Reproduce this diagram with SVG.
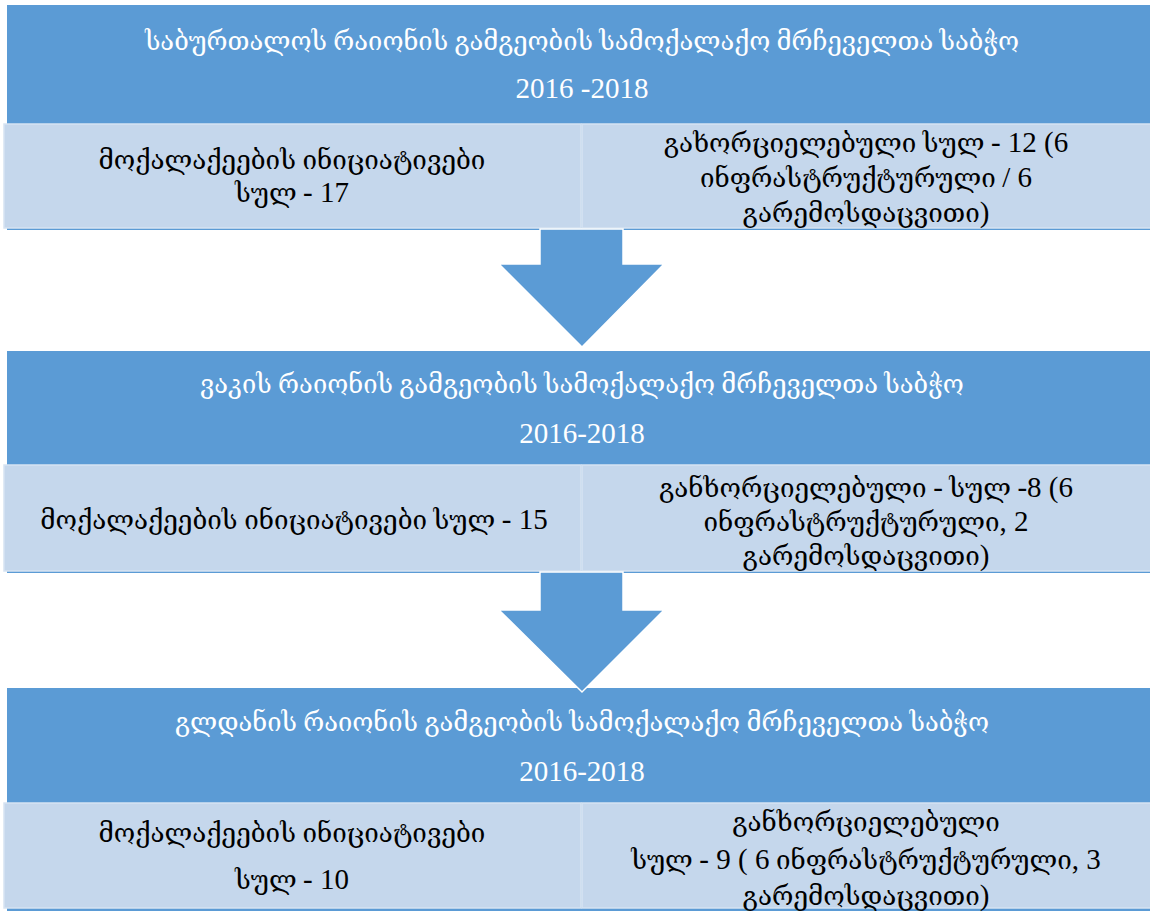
<svg xmlns="http://www.w3.org/2000/svg" width="1150" height="914" viewBox="0 0 1150 914">
<style>
.hdr{fill:#5B9BD5}
.cell{fill:#C5D7EC;stroke:#D6E3F2;stroke-width:1.5}
.arrow{fill:#5B9BD5;stroke:#FFFFFF;stroke-width:1.5}
text{font-family:"Liberation Serif","DejaVu Serif",serif;text-anchor:middle}
.t{fill:#FFFFFF;font-size:25.5px}
.b{fill:#000000;font-size:26px}
.n{font-size:29px}
</style>
<rect width="1150" height="914" fill="#FFFFFF"/>
<g id="block1">
<rect class="hdr" x="7" y="5" width="1143" height="225"/>
<text class="t" x="582" y="50">საბურთალოს რაიონის გამგეობის სამოქალაქო მრჩეველთა საბჭო</text>
<text class="t n" x="582" y="98">2016 -2018</text>
<rect class="cell" x="4" y="124" width="577" height="104"/>
<rect class="cell" x="582" y="124" width="570" height="104"/>
<text class="b" x="292" y="169">მოქალაქეების ინიციატივები</text>
<text class="b" x="292" y="202">სულ <tspan class="n">- 17</tspan></text>
<text class="b" x="866" y="152">გახორციელებული  სულ <tspan class="n">-  12 (6</tspan></text>
<text class="b" x="866" y="187">ინფრასტრუქტურული <tspan class="n">/ 6</tspan></text>
<text class="b" x="866" y="222">გარემოსდაცვითი<tspan class="n">)</tspan></text>
</g>
<g id="block2">
<rect class="hdr" x="7" y="351" width="1143" height="222"/>
<text class="t" x="582" y="393">ვაკის რაიონის გამგეობის სამოქალაქო მრჩეველთა საბჭო</text>
<text class="t n" x="582" y="443">2016-2018</text>
<rect class="cell" x="4" y="465" width="577" height="106"/>
<rect class="cell" x="582" y="465" width="570" height="106"/>
<text class="b" x="294" y="529">მოქალაქეების ინიციატივები სულ  <tspan class="n">- 15</tspan></text>
<text class="b" x="866" y="497">განხორციელებული <tspan class="n">-</tspan> სულ <tspan class="n">-8 (6</tspan></text>
<text class="b" x="866" y="531">ინფრასტრუქტურული<tspan class="n">, 2</tspan></text>
<text class="b" x="866" y="565">გარემოსდაცვითი<tspan class="n">)</tspan></text>
</g>
<g id="block3">
<rect class="hdr" x="7" y="688" width="1143" height="223"/>
<text class="t" x="582" y="731">გლდანის რაიონის გამგეობის სამოქალაქო მრჩეველთა საბჭო</text>
<text class="t n" x="582" y="781">2016-2018</text>
<rect class="cell" x="4" y="803" width="577" height="105"/>
<rect class="cell" x="582" y="803" width="570" height="105"/>
<text class="b" x="292" y="842">მოქალაქეების ინიციატივები</text>
<text class="b" x="292" y="889">სულ <tspan class="n">- 10</tspan></text>
<text class="b" x="866" y="831">განხორციელებული</text>
<text class="b" x="866" y="869">სულ <tspan class="n">- 9 ( 6</tspan> ინფრასტრუქტურული<tspan class="n">, 3</tspan></text>
<text class="b" x="866" y="905">გარემოსდაცვითი<tspan class="n">)</tspan></text>
</g>
<g id="connectors">
<polygon class="arrow" points="540,229 623,229 623,264 664,264 582,347 499,264 540,264"/>
<polygon class="arrow" points="540,572 623,572 623,610 664,610 582,692 499,610 540,610"/>
</g>
</svg>
